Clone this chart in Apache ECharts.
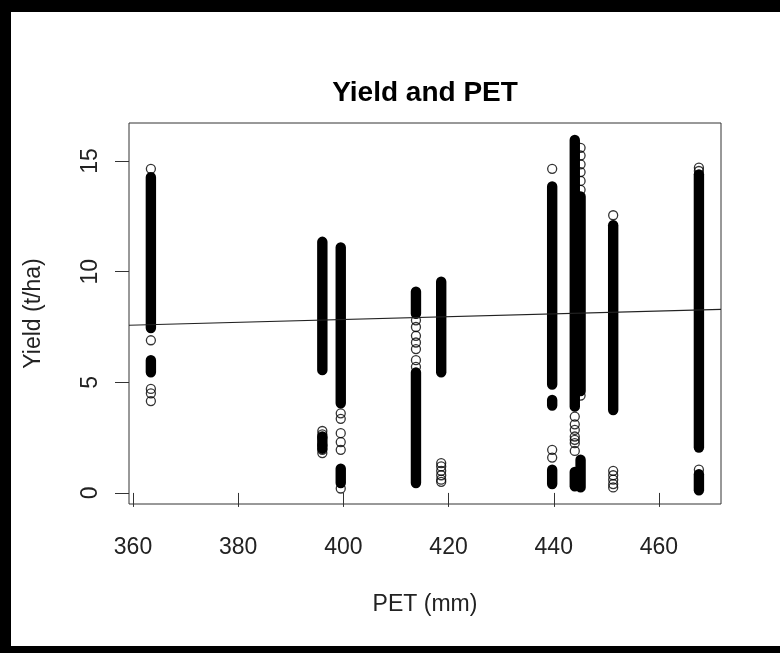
<!DOCTYPE html>
<html lang="en">
<head>
<meta charset="UTF-8">
<style>
html, body { margin: 0; background: #fff; }
#chart { width: 780px; height: 653px; }
</style>
</head>
<body>
<div id="chart"></div>
<script src="https://cdn.jsdelivr.net/npm/echarts@6/dist/echarts.min.js"></script>
<script>
// ticks
var xTicks = [360, 380, 400, 420, 440, 460];
var yTicks = [0, 5, 10, 15];

// runs of points so dense they merge into a solid bar: [PET, lowest yield, highest yield]
var denseRuns = [
    [363.4, 7.45, 14.27], [363.4, 5.45, 6.0],
    [396.0, 5.55, 11.35], [396.0, 2.0, 2.55],
    [399.5, 4.05, 11.1], [399.5, 0.45, 1.1],
    [413.8, 8.1, 9.1], [413.8, 0.45, 5.45],
    [418.6, 5.45, 9.55],
    [439.7, 4.9, 13.85], [439.7, 3.95, 4.2], [439.7, 0.4, 1.05],
    [444.0, 3.9, 15.95], [444.0, 0.3, 0.95],
    [445.1, 4.6, 13.4], [445.1, 0.25, 1.5],
    [451.3, 3.75, 12.1],
    [467.6, 2.05, 14.4], [467.6, 0.12, 0.85]
];

// points that still show as single circles: [PET, yield]
var loosePoints = [
    [363.4, 14.65], [363.4, 6.9], [363.4, 4.7], [363.4, 4.5], [363.4, 4.15],
    [396.0, 2.8], [396.0, 2.65], [396.0, 2.5], [396.0, 2.15], [396.0, 1.95], [396.0, 1.8],
    [399.5, 3.6], [399.5, 3.35], [399.5, 2.7], [399.5, 2.3], [399.5, 1.95], [399.5, 0.2],
    [413.8, 7.8], [413.8, 7.5], [413.8, 7.1], [413.8, 6.8], [413.8, 6.5], [413.8, 6.0], [413.8, 5.7],
    [418.6, 1.35], [418.6, 1.2], [418.6, 1.0], [418.6, 0.8], [418.6, 0.6], [418.6, 0.5],
    [439.7, 14.65], [439.7, 1.95], [439.7, 1.6],
    [444.0, 3.45], [444.0, 3.1], [444.0, 2.85], [444.0, 2.55], [444.0, 2.4], [444.0, 2.25], [444.0, 1.9],
    [445.1, 15.6], [445.1, 15.25], [445.1, 14.85], [445.1, 14.5], [445.1, 14.1], [445.1, 13.7], [445.1, 4.4],
    [451.3, 12.55], [451.3, 1.0], [451.3, 0.8], [451.3, 0.6], [451.3, 0.4], [451.3, 0.25],
    [467.6, 14.7], [467.6, 14.55], [467.6, 1.05]
];

// fitted regression line, read at the plot edges
var fitX = [359.24, 471.8];
var fitY = [7.58, 8.30];

var font = '"Liberation Sans", Arial, sans-serif';

var myChart = echarts.init(document.getElementById('chart'));
myChart.setOption({
    animation: false,
    backgroundColor: '#fff',
    grid: {
        left: 129, top: 123, width: 592, height: 381,
        show: true, borderColor: '#333', borderWidth: 1
    },
    xAxis: {
        type: 'value', min: 359.24, max: 471.8,
        axisLine: {show: false},
        splitLine: {show: false},
        axisTick: {show: true, customValues: xTicks, length: 14, lineStyle: {color: '#333'}},
        axisLabel: {customValues: xTicks, fontSize: 23, color: '#222', fontFamily: font, margin: 32},
        name: 'PET (mm)', nameLocation: 'middle', nameGap: 89,
        nameTextStyle: {fontSize: 23, color: '#222', fontFamily: font}
    },
    yAxis: {
        type: 'value', min: -0.5, max: 16.72,
        axisLine: {show: false},
        splitLine: {show: false},
        axisTick: {show: true, customValues: yTicks, length: 14, lineStyle: {color: '#333'}},
        axisLabel: {customValues: yTicks, fontSize: 23, color: '#222', fontFamily: font, margin: 27, rotate: 90},
        name: 'Yield (t/ha)', nameLocation: 'middle', nameGap: 84,
        nameTextStyle: {fontSize: 23, color: '#222', fontFamily: font}
    },
    series: [
        {
            type: 'custom',
            data: denseRuns,
            encode: {x: 0, y: [1, 2]},
            renderItem: function (params, api) {
                var lo = api.coord([api.value(0), api.value(1)]);
                var hi = api.coord([api.value(0), api.value(2)]);
                var r = 5.2;
                return {
                    type: 'rect',
                    shape: {x: hi[0] - r, y: hi[1] - r, width: 2 * r, height: lo[1] - hi[1] + 2 * r, r: r},
                    style: {fill: '#000'}
                };
            }
        },
        {
            type: 'scatter',
            data: loosePoints,
            symbol: 'circle',
            symbolSize: 9,
            itemStyle: {color: 'rgba(0,0,0,0)', borderColor: '#000', borderWidth: 1.3}
        },
        {
            type: 'line',
            data: [[fitX[0], fitY[0]], [fitX[1], fitY[1]]],
            showSymbol: false,
            lineStyle: {color: '#222', width: 1.2}
        }
    ],
    graphic: [
        {type: 'text', x: 425, y: 93, style: {text: 'Yield and PET', fontSize: 28, fontWeight: 'bold', fontFamily: font, fill: '#000', align: 'center', verticalAlign: 'middle'}},
        {type: 'rect', shape: {x: 0, y: 0, width: 780, height: 12}, style: {fill: '#000'}},
        {type: 'rect', shape: {x: 0, y: 0, width: 11, height: 653}, style: {fill: '#000'}},
        {type: 'rect', shape: {x: 0, y: 646, width: 780, height: 7}, style: {fill: '#000'}}
    ]
});
</script>
</body>
</html>
